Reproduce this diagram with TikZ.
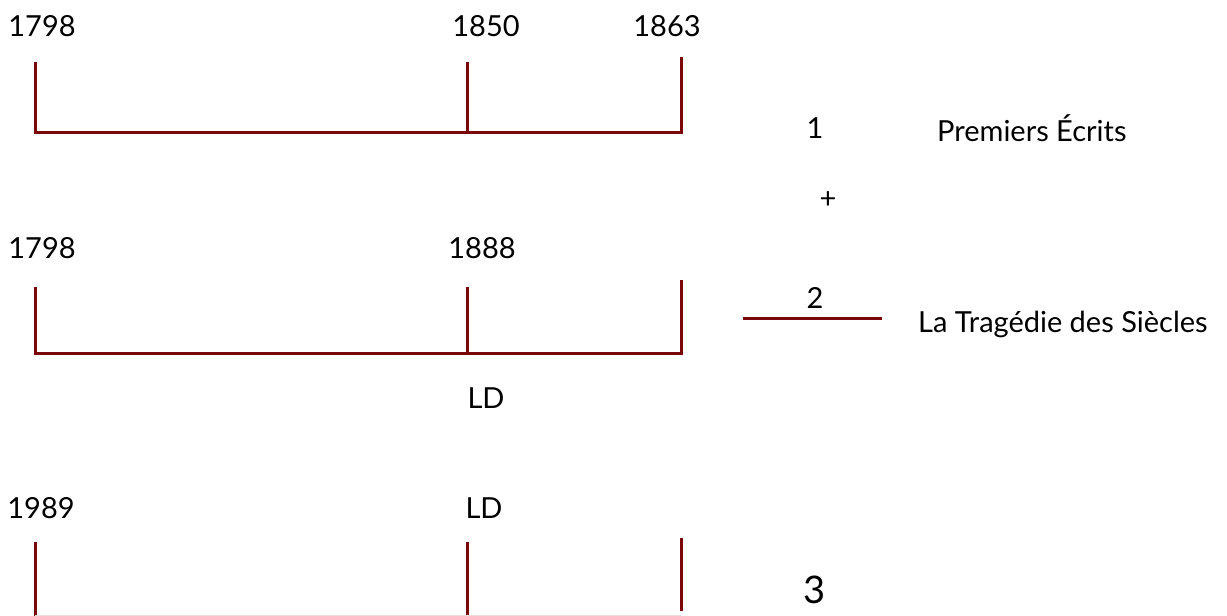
\documentclass[tikz,border=0pt]{standalone}
\usepackage{fontspec}
\setmainfont{Lato}
\usepackage{tikz}
\definecolor{bordeaux}{RGB}{122,8,8}

\begin{document}
\begin{tikzpicture}[x=1pt,y=-1pt,
  lab/.style={inner sep=0pt,font=\fontsize{29}{34}\selectfont},
  bar/.style={draw=bordeaux,line width=3pt}]
\useasboundingbox (0,0) rectangle (1227,616);
\clip (0,0) rectangle (1227,616);

% first timeline
\node (dateaa) at (42,26) [lab] {1798};
\node (dateab) at (486,26) [lab] {1850};
\node (dateac) at (667,26) [lab] {1863};
\coordinate (baa) at (35,62);
\coordinate (bab) at (467,62);
\coordinate (bac) at (681,57);
\draw [bar] (baa) |- (bac |- 0,132) -- (bac);
\draw [bar] (bab) -- (bab |- 0,132);

% second timeline
\node (dateba) at (42,248) [lab] {1798};
\node (datebb) at (482,248) [lab] {1888};
\coordinate (bba) at (35,287);
\coordinate (bbb) at (467,287);
\coordinate (bbc) at (681,280);
\draw [bar] (bba) |- (bbc |- 0,353) -- (bbc);
\draw [bar] (bbb) -- (bbb |- 0,353);
\node (ldb) at (486,398) [lab] {LD};

% third timeline
\node (dateca) at (41,508) [lab] {1989};
\node (ldc) at (484,508) [lab] {LD};
\coordinate (bca) at (35,542);
\coordinate (bcb) at (467,542);
\coordinate (bcc) at (681,538);
\draw [bar] (bca) -- (bca |- 0,620);
\draw [bar] (bcb) -- (bcb |- 0,620);
\draw [bar] (bcc) -- (bcc |- 0,611);
\draw [draw=bordeaux!15,line width=1pt] (bca |- 0,615.5) -- (bcc |- 0,615.5);

% legend
\node (numa) at (815,128) [lab] {1};
\node (titlea) at (937,128) [lab,anchor=west] {Premiers Écrits};
\node (plus) at (828,200) [lab] {+};
\node (numb) at (815,298) [lab] {2};
\coordinate (ruleb) at (743,318);
\coordinate (rulee) at (882,318);
\draw [bar] (ruleb) -- (rulee);
\node (titleb) at (918,324) [lab,anchor=west] {La Tragédie des Siècles};
\node (numc) at (815,590) [lab,font=\fontsize{38}{44}\selectfont] {3};
\end{tikzpicture}
\end{document}
